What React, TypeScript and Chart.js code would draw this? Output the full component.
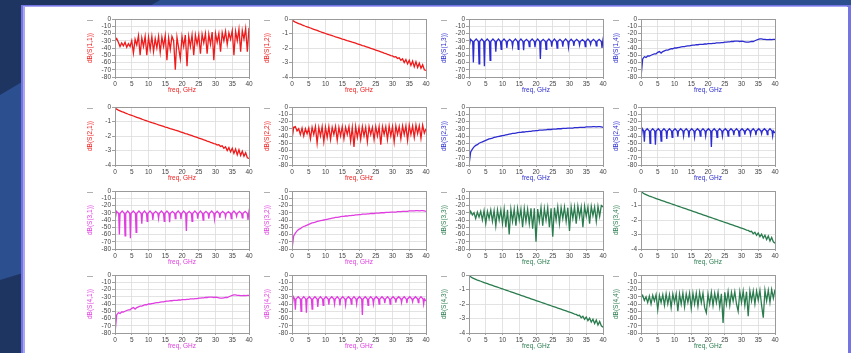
import React, { useEffect, useRef } from 'react';
import { Chart, registerables } from 'chart.js';
Chart.register(...registerables);

// ---------- data ----------
const FREQ = [
  0, 0.5, 1, 1.5, 2, 2.5, 3, 3.5, 4, 4.5,
  5, 5.5, 6, 6.5, 7, 7.5, 8, 8.5, 9, 9.5,
  10, 10.5, 11, 11.5, 12, 12.5, 13, 13.5, 14, 14.5,
  15, 15.5, 16, 16.5, 17, 17.5, 18, 18.5, 19, 19.5,
  20, 20.5, 21, 21.5, 22, 22.5, 23, 23.5, 24, 24.5,
  25, 25.5, 26, 26.5, 27, 27.5, 28, 28.5, 29, 29.5,
  30, 30.5, 31, 31.5, 32, 32.5, 33, 33.5, 34, 34.5,
  35, 35.5, 36, 36.5, 37, 37.5, 38, 38.5, 39, 39.5,
  40,
];

const S11 = [
  -30, -27, -32, -38, -33, -37, -32, -39, -34, -38,
  -30, -47, -28, -36, -23, -50, -26, -38, -24, -50,
  -25, -42, -24, -45, -27, -40, -24, -46, -25, -38,
  -23, -57, -26, -42, -24, -30, -70, -25, -40, -55,
  -24, -38, -22, -65, -24, -38, -22, -50, -22, -35,
  -22, -48, -21, -33, -20, -48, -21, -35, -18, -57,
  -20, -32, -20, -45, -19, -30, -17, -35, -19, -28,
  -16, -50, -17, -30, -14, -45, -16, -28, -13, -45,
  -12,
];

const S22 = [
  -45, -28, -27, -33, -30, -38, -29, -40, -30, -37,
  -29, -44, -28, -38, -27, -50, -28, -40, -27, -48,
  -28, -42, -27, -45, -28, -38, -27, -46, -28, -40,
  -27, -44, -28, -38, -27, -47, -28, -55, -27, -42,
  -28, -45, -27, -40, -28, -48, -27, -38, -28, -45,
  -27, -40, -27, -52, -27, -38, -27, -45, -26, -40,
  -27, -48, -26, -38, -27, -44, -26, -38, -26, -46,
  -25, -38, -26, -42, -25, -37, -26, -43, -25, -36,
  -30,
];

const S33 = [
  -35, -28, -33, -30, -38, -29, -36, -28, -40, -27,
  -45, -28, -38, -26, -42, -27, -48, -26, -40, -26,
  -45, -25, -50, -26, -60, -25, -42, -25, -48, -24,
  -40, -25, -50, -24, -42, -25, -45, -24, -52, -24,
  -70, -25, -42, -23, -48, -24, -40, -23, -50, -24,
  -63, -23, -40, -22, -45, -23, -38, -22, -42, -23,
  -55, -22, -38, -22, -45, -21, -36, -22, -50, -21,
  -35, -22, -45, -21, -34, -22, -42, -21, -35, -20,
  -22,
];

const S44 = [
  -32, -28, -35, -30, -38, -29, -40, -28, -36, -27,
  -48, -28, -38, -27, -42, -26, -40, -27, -45, -26,
  -38, -26, -50, -26, -40, -25, -44, -26, -38, -25,
  -46, -25, -40, -25, -43, -24, -38, -25, -45, -52,
  -26, -40, -24, -42, -25, -38, -24, -44, -26, -66,
  -24, -40, -23, -42, -24, -36, -23, -40, -50, -23,
  -38, -22, -42, -23, -57, -22, -36, -22, -40, -22,
  -35, -21, -42, -59, -21, -36, -21, -38, -20, -32,
  -20,
];

const S12 = [
  -0.05, -0.15, -0.22, -0.27, -0.32, -0.36, -0.41, -0.45, -0.5, -0.54,
  -0.58, -0.62, -0.67, -0.71, -0.75, -0.79, -0.84, -0.88, -0.92, -0.96,
  -1.0, -1.04, -1.08, -1.11, -1.15, -1.19, -1.23, -1.26, -1.3, -1.34,
  -1.38, -1.41, -1.45, -1.49, -1.52, -1.56, -1.6, -1.63, -1.67, -1.71,
  -1.75, -1.79, -1.83, -1.86, -1.9, -1.94, -1.98, -2.02, -2.06, -2.1,
  -2.14, -2.18, -2.22, -2.26, -2.3, -2.35, -2.38, -2.44, -2.47, -2.52,
  -2.55, -2.62, -2.6, -2.72, -2.68, -2.85, -2.75, -3.0, -2.8, -3.1,
  -2.85, -3.2, -2.9, -3.3, -2.95, -3.35, -3.05, -3.4, -3.15, -3.5,
  -3.55,
];
const S21 = S12;

const S34 = [
  -0.02, -0.12, -0.2, -0.25, -0.3, -0.35, -0.39, -0.43, -0.48, -0.52,
  -0.56, -0.6, -0.64, -0.68, -0.72, -0.76, -0.8, -0.84, -0.88, -0.92,
  -0.96, -1.0, -1.04, -1.08, -1.12, -1.16, -1.2, -1.24, -1.28, -1.32,
  -1.36, -1.4, -1.44, -1.48, -1.52, -1.56, -1.6, -1.64, -1.68, -1.72,
  -1.76, -1.8, -1.84, -1.88, -1.92, -1.96, -2.0, -2.04, -2.08, -2.12,
  -2.16, -2.2, -2.24, -2.28, -2.32, -2.36, -2.4, -2.44, -2.48, -2.52,
  -2.56, -2.6, -2.64, -2.7, -2.72, -2.8, -2.78, -2.95, -2.85, -3.05,
  -2.9, -3.15, -2.98, -3.25, -3.05, -3.35, -3.1, -3.45, -3.2, -3.5,
  -3.6,
];
const S43 = S34;

const S14 = [
  -80, -55, -52, -53, -51, -51, -50, -49, -48, -48,
  -46, -45, -47, -45, -44, -43, -43, -42, -41, -41,
  -40, -40, -39.5, -39, -38.5, -38, -38, -37.5, -37, -37,
  -36.5, -36, -36, -35.5, -35.5, -35, -35, -35, -34.5, -34.5,
  -34, -34, -34, -33.5, -33.5, -33, -33, -33, -32.5, -32.5,
  -32, -32, -31.5, -31.5, -31, -31, -30.5, -30.5, -30.5, -31,
  -30.5, -31, -31.5, -32, -32, -31.5, -31, -31, -30, -29,
  -28, -27.5, -27.5, -28, -28, -28.5, -28.5, -28, -28.5, -28,
  -28,
];
const S41 = S14;

const S23 = [
  -80, -62, -58, -55, -53, -52, -50, -49, -48, -47,
  -46, -45, -44, -43.5, -43, -42, -41.5, -41, -40.5, -40,
  -39.5, -39, -38.5, -38, -37.5, -37, -36.5, -36.5, -36, -35.5,
  -35, -35, -34.5, -34.5, -34, -34, -33.5, -33.5, -33, -33,
  -32.5, -32.5, -32, -32, -32, -31.5, -31.5, -31, -31, -31,
  -30.5, -30.5, -30.5, -30, -30, -30, -29.5, -29.5, -29.5, -29,
  -29, -29, -29, -28.5, -28.5, -28.5, -28, -28, -28, -28,
  -27.5, -27.5, -27.5, -27.5, -27, -27, -27.5, -27, -27, -27.5,
  -28,
];
const S32 = S23;

const S13_F = [
  0, 0.45,
  1.1, 1.3, 1.5, 2.15,
  2.8, 3.0, 3.2, 3.8,
  4.4, 4.6, 4.8, 5.45,
  6.1, 6.3, 6.5, 7.15,
  7.8, 8.0, 8.2, 8.8,
  9.4, 9.6, 9.8, 10.45,
  11.1, 11.3, 11.5, 12.15,
  12.8, 13.0, 13.2, 13.85,
  14.5, 14.7, 14.9, 15.5,
  16.1, 16.3, 16.5, 17.15,
  17.8, 18.0, 18.2, 18.85,
  19.5, 19.7, 19.9, 20.5,
  21.1, 21.3, 21.5, 22.15,
  22.8, 23.0, 23.2, 23.85,
  24.5, 24.7, 24.9, 25.5,
  26.1, 26.3, 26.5, 27.15,
  27.8, 28.0, 28.2, 28.85,
  29.5, 29.7, 29.9, 30.5,
  31.1, 31.3, 31.5, 32.15,
  32.8, 33.0, 33.2, 33.85,
  34.5, 34.7, 34.9, 35.5,
  36.1, 36.3, 36.5, 37.15,
  37.8, 38.0, 38.2, 38.85,
  39.5, 39.7, 39.9, 40,
];
const S13_DB = [
  -40, -28,
  -31, -60, -31, -27.5,
  -31, -62, -31, -27.5,
  -31, -65, -31, -27.5,
  -31, -57, -31, -27.5,
  -31, -45, -31, -27.5,
  -31, -42, -31, -27.5,
  -31, -40, -31, -28,
  -31, -38, -31, -27.5,
  -31, -42, -31, -27.5,
  -31, -43, -31, -28,
  -31, -38, -31, -27.5,
  -31, -39, -31, -27.5,
  -31, -55, -31, -28,
  -31, -42, -31, -27.5,
  -31, -38, -31, -27.5,
  -31, -40, -31, -28,
  -31, -38, -31, -27.5,
  -31, -39, -31, -28,
  -31, -37, -31, -28,
  -31, -36, -31, -28.5,
  -31, -38, -31, -27.5,
  -31, -35, -31, -28,
  -31, -37, -31, -28,
  -31, -40, -32, -37,
];
const S31_F = S13_F;
const S31_DB = S13_DB;

const S24_F = [
  0, 0.4,
  0.8, 1.0, 1.2, 1.85,
  2.5, 2.7, 2.9, 3.5,
  4.1, 4.3, 4.5, 5.15,
  5.8, 6.0, 6.2, 6.85,
  7.5, 7.7, 7.9, 8.5,
  9.1, 9.3, 9.5, 10.15,
  10.8, 11.0, 11.2, 11.85,
  12.5, 12.7, 12.9, 13.5,
  14.1, 14.3, 14.5, 15.15,
  15.8, 16.0, 16.2, 16.85,
  17.5, 17.7, 17.9, 18.5,
  19.1, 19.3, 19.5, 20.15,
  20.8, 21.0, 21.2, 21.85,
  22.5, 22.7, 22.9, 23.5,
  24.1, 24.3, 24.5, 25.15,
  25.8, 26.0, 26.2, 26.85,
  27.5, 27.7, 27.9, 28.5,
  29.1, 29.3, 29.5, 30.15,
  30.8, 31.0, 31.2, 31.85,
  32.5, 32.7, 32.9, 33.5,
  34.1, 34.3, 34.5, 35.15,
  35.8, 36.0, 36.2, 36.85,
  37.5, 37.7, 37.9, 38.5,
  39.1, 39.3, 39.5, 40,
];
const S24_DB = [
  -45, -30,
  -33, -48, -33, -30,
  -33, -50, -33, -30,
  -33, -52, -33, -30,
  -33, -47, -33, -30,
  -33, -44, -33, -30,
  -33, -42, -33, -30,
  -33, -41, -33, -30,
  -33, -40, -33, -30,
  -33, -42, -33, -30,
  -33, -41, -33, -30,
  -33, -40, -33, -30,
  -33, -40, -33, -30,
  -33, -55, -33, -30,
  -33, -42, -33, -30,
  -33, -40, -33, -30,
  -33, -40, -33, -30,
  -33, -39, -33, -30,
  -33, -40, -33, -30,
  -33, -38, -33, -30,
  -33, -38, -33, -30,
  -33, -39, -33, -30,
  -33, -37, -33, -30,
  -33, -38, -33, -30,
  -33, -40, -33, -36,
];
const S42_F = S24_F;
const S42_DB = S24_DB;

const DB_TICKS = [0, -10, -20, -30, -40, -50, -60, -70, -80];
const IL_TICKS = [0, -1, -2, -3, -4];
const FREQ_TICKS = [0, 5, 10, 15, 20, 25, 30, 35, 40];

// ---------- styles / layout ----------
const RED = '#f01a1a';
const BLUE = '#2c2cd0';
const MAGENTA = '#e03ee0';
const GREEN = '#2a7c4e';

type Panel = { title: string; color: string; x: number[]; y: number[]; ticks: number[] };

const PANELS: Panel[][] = [
  [
    { title: 'dB(S(1,1))', color: RED, x: FREQ, y: S11, ticks: DB_TICKS },
    { title: 'dB(S(1,2))', color: RED, x: FREQ, y: S12, ticks: IL_TICKS },
    { title: 'dB(S(1,3))', color: BLUE, x: S13_F, y: S13_DB, ticks: DB_TICKS },
    { title: 'dB(S(1,4))', color: BLUE, x: FREQ, y: S14, ticks: DB_TICKS },
  ],
  [
    { title: 'dB(S(2,1))', color: RED, x: FREQ, y: S21, ticks: IL_TICKS },
    { title: 'dB(S(2,2))', color: RED, x: FREQ, y: S22, ticks: DB_TICKS },
    { title: 'dB(S(2,3))', color: BLUE, x: FREQ, y: S23, ticks: DB_TICKS },
    { title: 'dB(S(2,4))', color: BLUE, x: S24_F, y: S24_DB, ticks: DB_TICKS },
  ],
  [
    { title: 'dB(S(3,1))', color: MAGENTA, x: S31_F, y: S31_DB, ticks: DB_TICKS },
    { title: 'dB(S(3,2))', color: MAGENTA, x: FREQ, y: S32, ticks: DB_TICKS },
    { title: 'dB(S(3,3))', color: GREEN, x: FREQ, y: S33, ticks: DB_TICKS },
    { title: 'dB(S(3,4))', color: GREEN, x: FREQ, y: S34, ticks: IL_TICKS },
  ],
  [
    { title: 'dB(S(4,1))', color: MAGENTA, x: FREQ, y: S41, ticks: DB_TICKS },
    { title: 'dB(S(4,2))', color: MAGENTA, x: S42_F, y: S42_DB, ticks: DB_TICKS },
    { title: 'dB(S(4,3))', color: GREEN, x: FREQ, y: S43, ticks: IL_TICKS },
    { title: 'dB(S(4,4))', color: GREEN, x: FREQ, y: S44, ticks: DB_TICKS },
  ],
];

const COL_LEFT = [115, 292, 469, 641];
const ROW_TOP = [19, 107, 191, 275];
const PLOT_W = 134;
const PLOT_H = 58;
const PAD_L = 40;
const PAD_T = 6;
const PAD_R = 8;
const PAD_B = 20;

const FONT = { family: '"Liberation Sans", Arial, sans-serif', size: 6.5 };
const TICK_COLOR = '#444';

const framePlugin = {
  id: 'frame',
  afterDraw(chart: any) {
    const { ctx, chartArea } = chart;
    const { left, top, right, bottom } = chartArea;
    ctx.save();
    ctx.strokeStyle = '#9a9a9a';
    ctx.lineWidth = 1;
    ctx.strokeRect(Math.round(left) + 0.5, Math.round(top) + 0.5, Math.round(right - left), Math.round(bottom - top));
    ctx.strokeStyle = '#b0b0b0';
    ctx.beginPath();
    ctx.moveTo(left - 28, Math.round(top) + 1.5);
    ctx.lineTo(left - 22, Math.round(top) + 1.5);
    ctx.stroke();
    ctx.restore();
  },
};

function MiniPlot({ p, left, top }: { p: Panel; left: number; top: number }) {
  const ref = useRef<HTMLCanvasElement>(null);
  useEffect(() => {
    const ticks = p.ticks;
    const yMin = ticks[ticks.length - 1];
    const yStep = ticks[0] - ticks[1];
    const chart = new Chart(ref.current!, {
      type: 'line',
      data: {
        datasets: [
          {
            data: p.x.map((f, i) => ({ x: f, y: p.y[i] })),
            borderColor: p.color,
            borderWidth: 1.3,
            pointRadius: 0,
            tension: 0,
            fill: false,
          },
        ],
      },
      options: {
        animation: false,
        responsive: false,
        events: [],
        layout: { padding: { left: 0, top: PAD_T, right: PAD_R, bottom: 0 } },
        plugins: { legend: { display: false }, tooltip: { enabled: false } },
        scales: {
          x: {
            type: 'linear',
            min: 0,
            max: 40,
            afterBuildTicks: (s: any) => {
              s.ticks = FREQ_TICKS.map((v) => ({ value: v }));
            },
            ticks: { font: FONT, color: TICK_COLOR, padding: 1, maxRotation: 0, autoSkip: false },
            grid: { color: '#dcdcdc', lineWidth: 0.8, tickLength: 2, tickColor: '#888' },
            border: { display: false },
            title: { display: true, text: 'freq, GHz', color: p.color, font: FONT, padding: { top: 0, bottom: 3 } },
            afterFit: (s: any) => {
              s.height = PAD_B;
            },
          },
          y: {
            type: 'linear',
            min: yMin,
            max: 0,
            afterBuildTicks: (s: any) => {
              s.ticks = ticks.map((v) => ({ value: v }));
            },
            ticks: { font: FONT, color: TICK_COLOR, padding: 1, stepSize: yStep, autoSkip: false },
            grid: { color: '#dcdcdc', lineWidth: 0.8, tickLength: 3, tickColor: '#888' },
            border: { display: false },
            title: { display: true, text: p.title, color: p.color, font: FONT, padding: { top: 11, bottom: 0 } },
            afterFit: (s: any) => {
              s.width = PAD_L;
            },
          },
        },
      },
      plugins: [framePlugin],
    } as any);
    return () => chart.destroy();
  }, [p]);
  const w = PAD_L + PLOT_W + PAD_R;
  const h = PAD_T + PLOT_H + PAD_B;
  return (
    <canvas
      ref={ref}
      width={w}
      height={h}
      style={{ position: 'absolute', left: left - PAD_L, top: top - PAD_T, width: w, height: h }}
    />
  );
}

export default function App() {
  return (
    <div
      style={{
        position: 'fixed',
        left: 0,
        top: 0,
        width: 851,
        height: 353,
        overflow: 'hidden',
        background: '#1f3561',
      }}
    >
      <div
        style={{
          position: 'absolute',
          inset: 0,
          background: '#2c4f8f',
          clipPath: 'polygon(160px 0, 851px 0, 851px 20px, 0 280px, 0 95px)',
        }}
      />
      <div style={{ position: 'absolute', left: 21, top: 5, width: 830, height: 348, background: '#7474e4' }} />
      <div style={{ position: 'absolute', left: 23, top: 6, width: 824, height: 347, background: '#a6a6f2' }} />
      <div style={{ position: 'absolute', left: 25, top: 7, width: 823, height: 346, background: '#ffffff' }} />
      {PANELS.map((row, r) =>
        row.map((p, c) => <MiniPlot key={`${r}-${c}`} p={p} left={COL_LEFT[c]} top={ROW_TOP[r]} />)
      )}
    </div>
  );
}
